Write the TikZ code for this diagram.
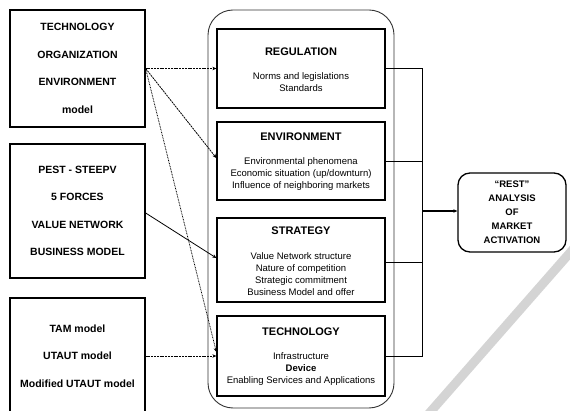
\documentclass[tikz,border=0pt]{standalone}
\usepackage{fontspec}
\setmainfont{Liberation Sans}
\usetikzlibrary{arrows.meta}
\begin{document}
\begin{tikzpicture}[x=1pt,y=-1pt,
 srcbox/.style={draw,line width=1.3pt,minimum width=135pt,align=center,font=\fontsize{10.5}{27.5}\selectfont\bfseries,inner sep=0pt},
 factbox/.style={draw,line width=1.3pt,minimum width=168pt,inner sep=0pt,fill=white},
 ttl/.style={font=\fontsize{11}{13}\selectfont\bfseries},
 body/.style={align=center,font=\fontsize{9.5}{12}\selectfont,inner sep=0pt},
 conn/.style={line width=0.8pt},
 tip/.style={-{Stealth[length=4pt,width=3.5pt]}},
 dsh/.style={dash pattern=on 2pt off 0.8pt},
 dtt/.style={dash pattern=on 0.8pt off 0.8pt}
]
\useasboundingbox (0,0) rectangle (570,411);
\clip (0,0) rectangle (570,411);
\fill[white] (0,0) rectangle (570,411);
% watermark stripe
\draw[line width=9pt,black!17] (425,418) -- (575,247);
% container
\node[draw=black!80,line width=0.9pt,rounded corners=25pt,minimum width=186pt,minimum height=398pt] (frame) at (301,209) {};
% source boxes
\node[srcbox,minimum height=117pt] (src1) at (77.5,68.5) {TECHNOLOGY\\ORGANIZATION\\ENVIRONMENT\\model};
\node[srcbox,minimum height=134pt] (src2) at (77.5,211) {PEST - STEEPV\\5 FORCES\\VALUE NETWORK\\BUSINESS MODEL};
\node[srcbox,minimum height=116pt] (src3) at (77.5,356) {TAM model\\UTAUT model\\Modified UTAUT model};
% factor boxes
\node[factbox,minimum height=79pt] (reg) at (301,68.5) {};
\node[ttl] (regT) at (301,52) {REGULATION};
\node[body] (regB) at (301,82) {Norms and legislations\\Standards};
\node[factbox,minimum height=78pt] (env) at (301,161) {};
\node[ttl] (envT) at (301,137) {ENVIRONMENT};
\node[body] (envB) at (301,174) {Environmental phenomena\\Economic situation (up/downturn)\\Influence of neighboring markets};
\node[factbox,minimum height=84pt] (str) at (301,260) {};
\node[ttl] (strT) at (301,231) {STRATEGY};
\node[body] (strB) at (301,274) {Value Network structure\\Nature of competition\\Strategic commitment\\Business Model and offer};
\node[factbox,minimum height=80pt] (tech) at (301,356) {};
\node[ttl] (techT) at (301,332) {TECHNOLOGY};
\node[body] (techB) at (301,369) {Infrastructure\\{\bfseries Device}\\Enabling Services and Applications};
% result
\node[draw,fill=white,line width=1.3pt,rounded corners=12pt,minimum width=108pt,minimum height=79pt,align=center,font=\fontsize{9.5}{14}\selectfont\bfseries,inner sep=0pt] (rest) at (512,212.5) {“REST”\\ANALYSIS\\OF\\MARKET\\ACTIVATION};
% left connectors
\draw[conn,dsh,tip] (src1.east) -- (reg.west);
\draw[conn,dsh,tip] (src1.east) -- ([yshift=3pt]env.west);
\draw[conn,dtt,tip] (src1.east) -- ([yshift=4pt]tech.west);
\draw[conn,tip] ([yshift=-2pt]src2.east) -- ([yshift=2pt]str.west);
\draw[conn,dsh,tip] (src3.east) -- (tech.west);
% right connectors
\coordinate (bus) at (422,211);
\draw[conn] (reg.east) -| (bus);
\draw[conn] (tech.east) -| (bus);
\draw[conn] (env.east) -- (env.east -| bus);
\draw[conn] ([yshift=-2pt]str.east) -- ([yshift=-2pt]str.east -| bus);
\draw[line width=1.2pt,tip] (bus) -- (bus -| rest.west);
\end{tikzpicture}
\end{document}
